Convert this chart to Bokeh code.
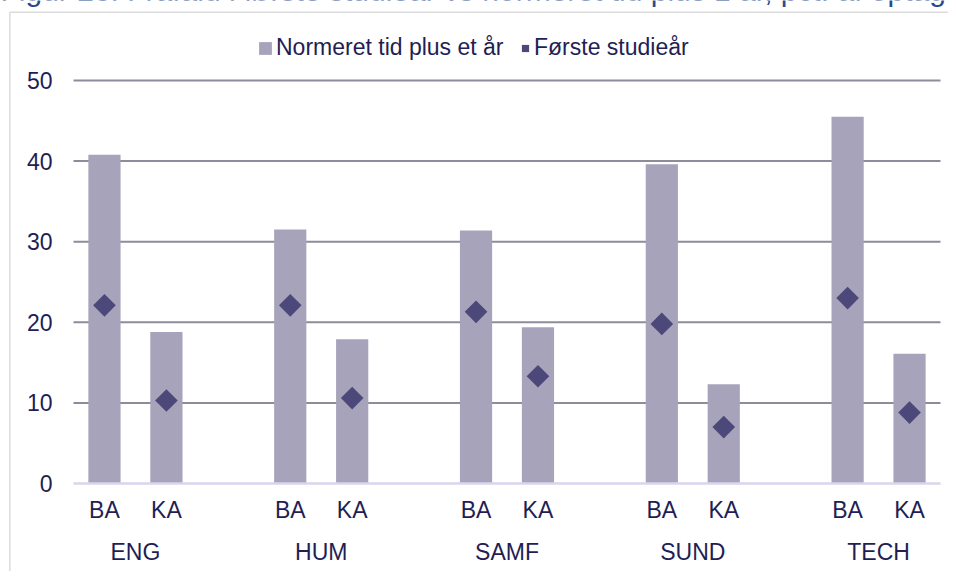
import numpy as np
from bokeh.plotting import figure
from bokeh.models import (FixedTicker, LinearAxis, Range1d, PolyAnnotation,
                          Label, Legend, LegendItem)
from bokeh.embed import file_html
from bokeh.resources import INLINE

# ---- data ----
groups = ["ENG", "HUM", "SAMF", "SUND", "TECH"]
levels = ["BA", "KA"]
normeret = [40.8, 18.8, 31.5, 17.9, 31.4, 19.4, 39.6, 12.3, 45.5, 16.1]
foerste = [22.1, 10.3, 22.1, 10.6, 21.3, 13.3, 19.8, 7.0, 23.0, 8.8]
y_ticks = [0, 10, 20, 30, 40, 50]
title_text = "Figur 23: Frafald i første studieår vs normeret tid plus 1 år, pct. af optagne"
series_names = ["Normeret tid plus et år", "Første studieår"]

# ---- category slots: BA, KA, gap per group ----
xs = [3 * g + l for g in range(len(groups)) for l in range(len(levels))]
sub_labels = [lvl for g in groups for lvl in levels]
group_pos = [3 * g + 0.5 for g in range(len(groups))]
n_slots = 3 * len(groups) - 1

# ---- layout (pixels) ----
W, H = 948, 571
PX_L, PX_R = 73, 940     # plot area left/right
PY_0, PY_50 = 483, 80    # y=0 and y=50 positions
sx = (PX_R - PX_L) / n_slots
sy = (PY_0 - PY_50) / 50.0
x0 = -0.5 - PX_L / sx
y0 = -(H - PY_0) / sy

FONT = "Liberation Sans"
FS = "23px"
TXT = "#221e54"
BAR = "#a7a3ba"
DIA = "#4c4879"

p = figure(width=W, height=H, output_backend="svg", toolbar_location=None,
           x_range=Range1d(x0, x0 + W / sx), y_range=Range1d(y0, y0 + H / sy),
           x_axis_location=None, y_axis_location=None,
           min_border=0, min_border_left=0, min_border_right=0,
           min_border_top=0, min_border_bottom=0)
p.outline_line_color = None
p.grid.visible = False
p.background_fill_color = "white"
p.border_fill_color = "white"

# gridlines and baseline
x_lo, x_hi = -0.5, n_slots - 0.5
p.segment(x0=[x_lo] * 5, x1=[x_hi] * 5, y0=y_ticks[1:], y1=y_ticks[1:],
          line_color="#8e8c9a", line_width=2)

bars = p.vbar(x=xs, top=normeret, width=0.52, fill_color=BAR, line_color=None)
p.segment(x0=[x_lo], x1=[x_hi], y0=[0], y1=[0], line_color="#d8d5ee", line_width=2.5)
dots = p.scatter(x=xs, y=foerste, marker="square", angle=np.pi / 4, size=16,
                 fill_color=DIA, line_color=None)

# axes
def style(ax, standoff):
    ax.axis_line_color = None
    ax.major_tick_line_color = None
    ax.minor_tick_line_color = None
    ax.major_tick_out = 0
    ax.major_tick_in = 0
    ax.minor_tick_out = 0
    ax.major_label_standoff = standoff
    ax.major_label_text_font = FONT
    ax.major_label_text_font_size = FS
    ax.major_label_text_color = TXT

ya = LinearAxis(ticker=FixedTicker(ticks=y_ticks), fixed_location=x_lo)
style(ya, 21)
p.add_layout(ya, "left")

ax1 = LinearAxis(ticker=FixedTicker(ticks=xs), fixed_location=0,
                 major_label_overrides={x: s for x, s in zip(xs, sub_labels)})
style(ax1, 13)
ax2 = LinearAxis(ticker=FixedTicker(ticks=group_pos), fixed_location=0,
                 major_label_overrides={x: s for x, s in zip(group_pos, groups)})
style(ax2, 55)
p.add_layout(ax1, "below")
p.add_layout(ax2, "below")

# legends
common = dict(padding=0, margin=0, border_line_color=None, background_fill_alpha=0,
              label_text_font=FONT, label_text_font_size=FS, label_text_color=TXT)
leg_bottom = H - 61
leg1 = Legend(items=[LegendItem(label=series_names[0], renderers=[bars])],
              location=(257, leg_bottom), glyph_width=16, glyph_height=16,
              label_standoff=3, **common)
leg2 = Legend(items=[LegendItem(label=series_names[1], renderers=[dots])],
              location=(516, leg_bottom), glyph_width=18, glyph_height=18,
              label_standoff=0, **common)
p.add_layout(leg1)
p.add_layout(leg2)

# cropped title and chart border
p.add_layout(Label(x=0, y=H - 6, x_units="screen", y_units="screen",
                   text=title_text, text_font=FONT, text_font_size="30px",
                   text_color="#2b4a8c", text_baseline="bottom"))
top_s = H - 11.7
p.add_layout(PolyAnnotation(xs=[9.3, 9.3, 3000, 3000], ys=[-100, top_s, top_s, -100],
                            xs_units="screen", ys_units="screen",
                            fill_alpha=0, line_color="#8c8c8c", line_width=1.5))

open("out.html", "w").write(file_html(p, INLINE))
